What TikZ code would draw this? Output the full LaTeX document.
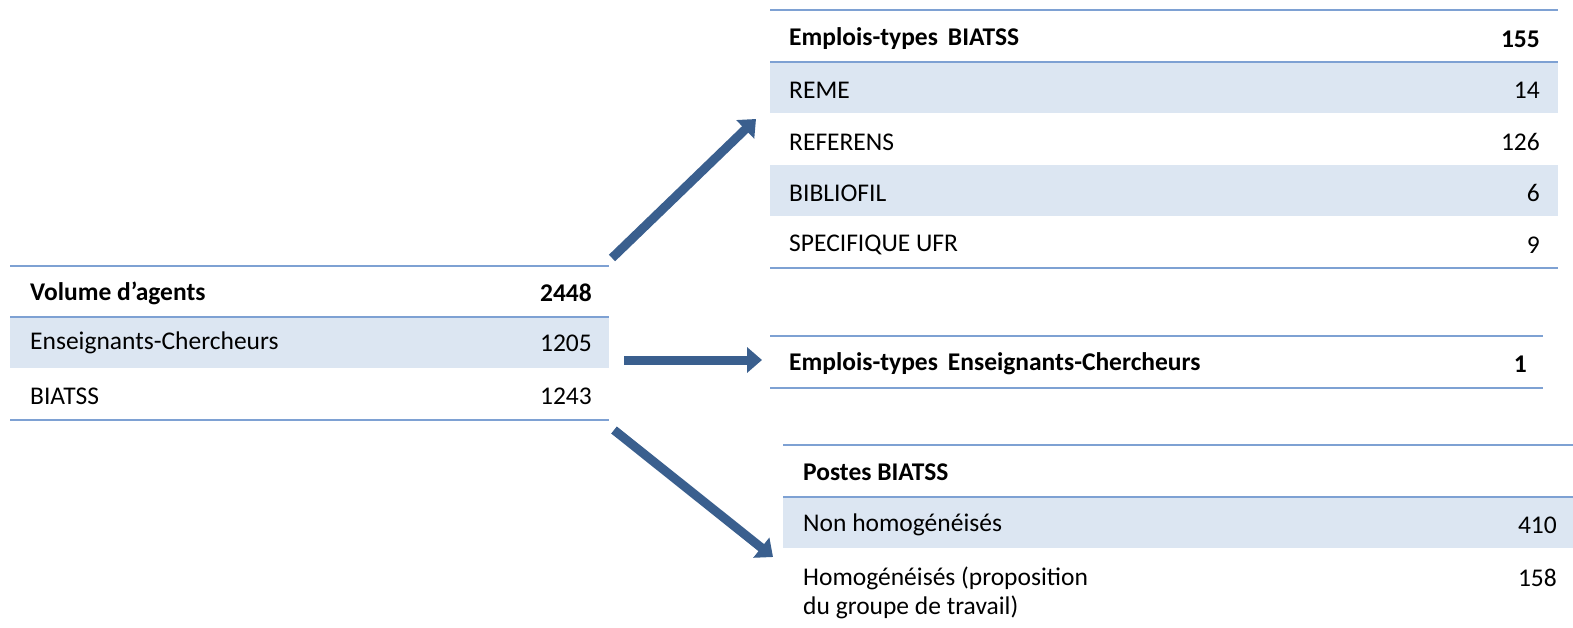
\documentclass[tikz,border=0pt]{standalone}
\usepackage{fontspec}
\setmainfont{Carlito}
\usetikzlibrary{arrows.meta}
\definecolor{rule}{HTML}{7EA1D3}
\definecolor{band}{HTML}{DCE6F2}
\definecolor{flow}{HTML}{3A5F8E}
\begin{document}
\begin{tikzpicture}[x=1pt,y=-1pt,
  txt/.style={anchor=west,inner sep=0pt,font=\fontsize{25.5}{29}\selectfont},
  num/.style={anchor=east,inner sep=0pt,font=\fontsize{25.5}{29}\selectfont},
  hd/.style={font=\fontsize{25.5}{29}\selectfont\bfseries},
  hline/.style={draw=rule,line width=1.8pt},
  shade/.style={fill=band,draw=none},
  bigarrow/.style={draw=flow,line width=9pt,-{Triangle[length=15pt,width=25pt]}}]
\useasboundingbox (0,0) rectangle (1573,628);

% ---- Volume d'agents
\fill[shade] (10,318) rectangle (609,368);
\draw[hline] (10,266) -- (609,266);
\draw[hline] (10,317) -- (609,317);
\draw[hline] (10,420) -- (609,420);
\node[txt,hd] (vol) at (30,293) {Volume d’agents};
\node[num,hd] (volN) at (592,293) {2448};
\node[txt] (ec) at (30,343) {Enseignants-Chercheurs};
\node[num] (ecN) at (592,343) {1205};
\node[txt] (bi) at (30,396) {BIATSS};
\node[num] (biN) at (592,396) {1243};

% ---- Emplois-types BIATSS
\fill[shade] (770,63) rectangle (1558,113);
\fill[shade] (770,165) rectangle (1558,216);
\draw[hline] (770,10) -- (1558,10);
\draw[hline] (770,62) -- (1558,62);
\draw[hline] (770,268) -- (1558,268);
\node[txt,hd] (etb) at (789,39) {Emplois-types\, BIATSS};
\node[num,hd] (etbN) at (1540,39) {155};
\node[txt] (reme) at (789,90) {REME};
\node[num] (remeN) at (1540,90) {14};
\node[txt] (ref) at (789,142) {REFERENS};
\node[num] (refN) at (1540,142) {126};
\node[txt] (bib) at (789,193) {BIBLIOFIL};
\node[num] (bibN) at (1540,193) {6};
\node[txt] (spe) at (789,245) {SPECIFIQUE UFR};
\node[num] (speN) at (1540,245) {9};

% ---- Emplois-types Enseignants-Chercheurs
\draw[hline] (770,336) -- (1543,336);
\draw[hline] (770,388) -- (1543,388);
\node[txt,hd] (etec) at (789,364) {Emplois-types\, Enseignants-Chercheurs};
\node[num,hd] (etecN) at (1527,364) {1};

% ---- Postes BIATSS
\fill[shade] (783,498) rectangle (1573,548);
\draw[hline] (783,445) -- (1573,445);
\draw[hline] (783,497) -- (1573,497);
\node[txt,hd] (pb) at (803,472) {Postes BIATSS};
\node[txt] (nh) at (803,525) {Non homogénéisés};
\node[num] (nhN) at (1557,525) {410};
\node[txt] (ho) at (803,578) {Homogénéisés (proposition};
\node[txt] (ho2) at (803,607) {du groupe de travail)};
\node[num] (hoN) at (1557,578) {158};

% ---- flow arrows
\coordinate (a1s) at (612,258);
\coordinate (a1e) at (756,119);
\coordinate (a2s) at (624,360);
\coordinate (a2e) at (762,360);
\coordinate (a3s) at (614,430);
\coordinate (a3e) at (773,557);
\draw[bigarrow] (a1s) -- (a1e);
\draw[bigarrow] (a2s) -- (a2e);
\draw[bigarrow] (a3s) -- (a3e);
\end{tikzpicture}
\end{document}
